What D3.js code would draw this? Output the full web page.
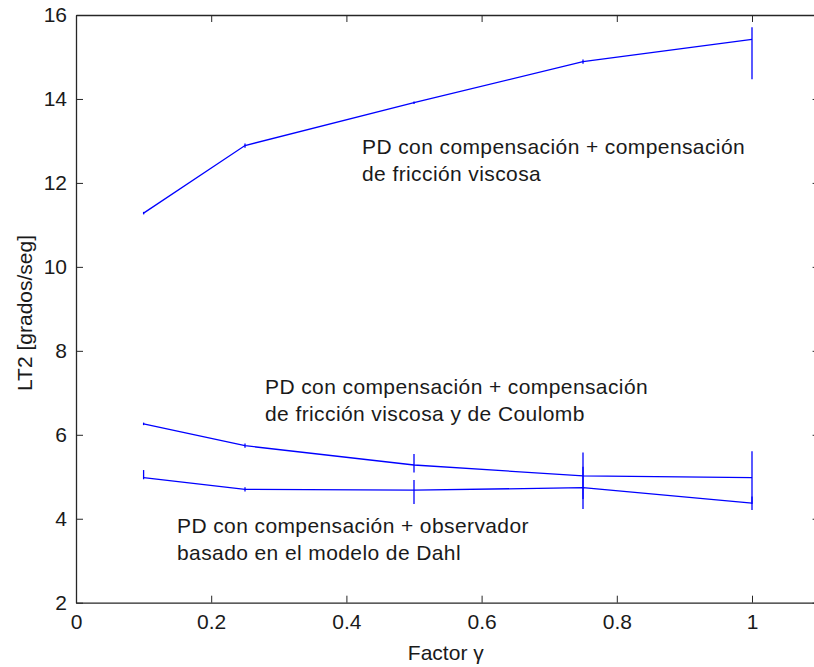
<!DOCTYPE html>
<html>
<head>
<meta charset="utf-8">
<script src="https://cdn.jsdelivr.net/npm/d3@7"></script>
<style>
  body { margin: 0; background: #fff; }
  svg { display: block; font-family: "Liberation Sans", Arial, sans-serif; }
  .axis text { font-size: 21px; fill: #1a1a1a; }
  .axis path, .axis line { stroke: #262626; }
  .note { font-size: 21px; fill: #1a1a1a; letter-spacing: 0.4px; }
</style>
</head>
<body>
<svg id="chart" width="814" height="667"></svg>
<script>
// factor gamma values (x)
const gamma = [0.1, 0.25, 0.5, 0.75, 1.0]

// PD + compensacion de friccion viscosa
const viscosa   = [11.28, 12.89, 13.91, 14.89, 15.42]
const viscosaLo = [0.03, 0.05, 0.03, 0.05, 0.95]
const viscosaHi = [0.03, 0.05, 0.03, 0.05, 0.29]

// PD + compensacion de friccion viscosa y de Coulomb
const coulomb   = [6.26, 5.74, 5.28, 5.02, 4.98]
const coulombLo = [0.03, 0.05, 0.18, 0.55, 0.63]
const coulombHi = [0.03, 0.05, 0.26, 0.56, 0.63]

// PD + observador basado en el modelo de Dahl
const dahl   = [4.98, 4.70, 4.68, 4.74, 4.37]
const dahlLo = [0.04, 0.05, 0.33, 0.51, 0.16]
const dahlHi = [0.18, 0.05, 0.24, 0.50, 0.16]

const xTicks = [0, 0.2, 0.4, 0.6, 0.8, 1]
const yTicks = [2, 4, 6, 8, 10, 12, 14, 16]

const series = [
  { y: viscosa, lo: viscosaLo, hi: viscosaHi },
  { y: coulomb, lo: coulombLo, hi: coulombHi },
  { y: dahl, lo: dahlLo, hi: dahlHi }
]

const notes = [
  { x: 362, y: 153.5, lines: ['PD con compensación + compensación', 'de fricción viscosa'] },
  { x: 265, y: 394, lines: ['PD con compensación + compensación', 'de fricción viscosa y de Coulomb'] },
  { x: 177, y: 533, lines: ['PD con compensación + observador', 'basado en el modelo de Dahl'] }
]

const margin = { left: 76, top: 15 }
const width = 743.6
const height = 587.7

const svg = d3.select('#chart')
const g = svg.append('g').attr('transform', `translate(${margin.left},${margin.top})`)

const xScale = d3.scaleLinear().domain([0, 1.1]).range([0, width])
const yScale = d3.scaleLinear().domain([2, 16]).range([height, 0])

const tick = 7

// axes, ticks pointing inwards on all four sides
g.append('g').attr('class', 'axis')
  .attr('transform', `translate(0,${height})`)
  .call(d3.axisBottom(xScale).tickValues(xTicks).tickFormat(d3.format('~g'))
    .tickSizeInner(-tick).tickSizeOuter(0).tickPadding(11.5))
g.append('g').attr('class', 'axis')
  .call(d3.axisTop(xScale).tickValues(xTicks).tickFormat('')
    .tickSizeInner(-tick).tickSizeOuter(0))
g.append('g').attr('class', 'axis')
  .call(d3.axisLeft(yScale).tickValues(yTicks)
    .tickSizeInner(-tick).tickSizeOuter(0).tickPadding(9))
g.append('g').attr('class', 'axis')
  .attr('transform', `translate(${width},0)`)
  .call(d3.axisRight(yScale).tickValues(yTicks).tickFormat('')
    .tickSizeInner(-tick).tickSizeOuter(0))

g.selectAll('.axis .domain').attr('stroke-width', 1.3)
g.selectAll('.axis text').attr('font-family', null).attr('font-size', null)

const line = d3.line()
  .x((d, i) => xScale(gamma[i]))
  .y(d => yScale(d))

series.forEach(s => {
  g.append('path')
    .datum(s.y)
    .attr('fill', 'none')
    .attr('stroke', '#0000ff')
    .attr('stroke-width', 1.3)
    .attr('d', line)

  g.selectAll(null)
    .data(s.y)
    .join('line')
    .attr('stroke', '#0000ff')
    .attr('stroke-width', 1.3)
    .attr('x1', (d, i) => xScale(gamma[i]))
    .attr('x2', (d, i) => xScale(gamma[i]))
    .attr('y1', (d, i) => yScale(d - s.lo[i]))
    .attr('y2', (d, i) => yScale(d + s.hi[i]))
})

// text annotations
notes.forEach(n => {
  const t = svg.append('text').attr('class', 'note')
  n.lines.forEach((l, i) => {
    t.append('tspan').attr('x', n.x).attr('y', n.y + i * 27).text(l)
  })
})

// axis labels
svg.append('text')
  .attr('x', margin.left + width / 2 - 2)
  .attr('y', 660)
  .attr('text-anchor', 'middle')
  .attr('font-size', 21)
  .attr('fill', '#1a1a1a')
  .text('Factor γ')

svg.append('text')
  .attr('transform', 'translate(32,313) rotate(-90)')
  .attr('text-anchor', 'middle')
  .attr('font-size', 21)
  .attr('fill', '#1a1a1a')
  .text('LT2 [grados/seg]')
</script>
</body>
</html>
